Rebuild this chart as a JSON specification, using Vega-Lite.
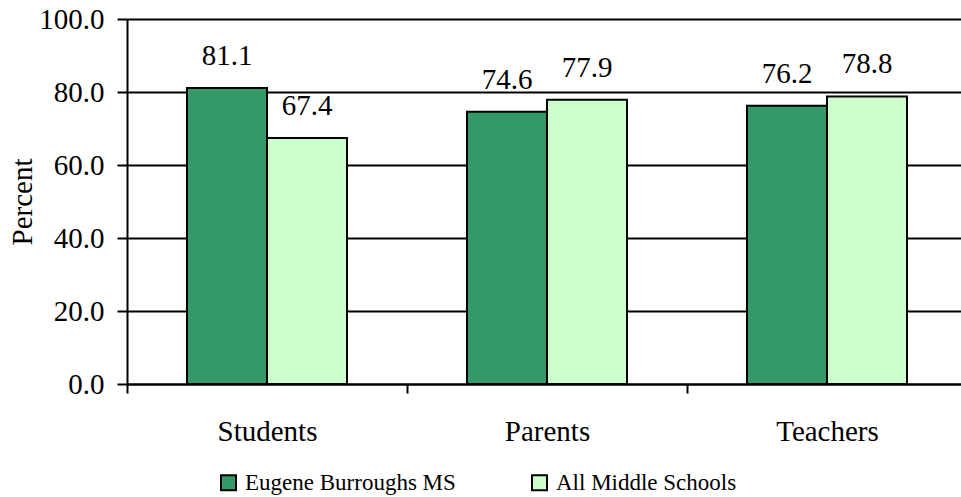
{
  "$schema": "https://vega.github.io/schema/vega-lite/v6.json",
  "autosize": "none",
  "width": 840,
  "height": 365,
  "padding": {"left": 127, "top": 19, "right": 0, "bottom": 113},
  "background": "white",
  "config": {
    "view": {"stroke": null},
    "font": "Liberation Serif",
    "axis": {"labelFont": "Liberation Serif", "titleFont": "Liberation Serif", "labelColor": "black", "titleColor": "black"}
  },
  "data": {
    "values": [
      {"group": "Students", "series": "Eugene Burroughs MS", "value": 81.1},
      {"group": "Students", "series": "All Middle Schools", "value": 67.4},
      {"group": "Parents", "series": "Eugene Burroughs MS", "value": 74.6},
      {"group": "Parents", "series": "All Middle Schools", "value": 77.9},
      {"group": "Teachers", "series": "Eugene Burroughs MS", "value": 76.2},
      {"group": "Teachers", "series": "All Middle Schools", "value": 78.8}
    ]
  },
  "encoding": {
    "x": {
      "field": "group", "type": "nominal", "sort": ["Students", "Parents", "Teachers"],
      "scale": {"paddingInner": 0, "paddingOuter": 0},
      "axis": {
        "title": null, "labelAngle": 0, "labelFontSize": 29, "labelPadding": 24,
        "tickBand": "extent", "tickSize": 9, "tickWidth": 2, "tickColor": "black",
        "domainColor": "black", "domainWidth": 2
      }
    },
    "xOffset": {
      "field": "series", "type": "nominal", "sort": ["Eugene Burroughs MS", "All Middle Schools"],
      "scale": {"paddingInner": 0, "paddingOuter": 0.75}
    },
    "y": {
      "field": "value", "type": "quantitative",
      "scale": {"domain": [0, 100]},
      "axis": {
        "title": "Percent", "titleFontSize": 29, "titleFontWeight": "normal", "titlePadding": 1,
        "values": [0, 20, 40, 60, 80, 100], "format": ".1f", "labelFontSize": 29, "labelPadding": 13,
        "tickSize": 10, "tickWidth": 2, "tickColor": "black",
        "domainColor": "black", "domainWidth": 2,
        "grid": true, "gridColor": "black", "gridWidth": 2
      }
    }
  },
  "layer": [
    {
      "mark": {"type": "bar", "stroke": "black", "strokeWidth": 2},
      "encoding": {
        "color": {
          "field": "series", "type": "nominal", "sort": ["Eugene Burroughs MS", "All Middle Schools"],
          "scale": {"domain": ["Eugene Burroughs MS", "All Middle Schools"], "range": ["#339966", "#CCFFCC"]},
          "legend": {
            "title": null, "orient": "none", "direction": "horizontal", "legendX": 90, "legendY": 452,
            "symbolType": "square", "symbolSize": 225, "symbolStrokeColor": "black", "symbolStrokeWidth": 2,
            "symbolOpacity": 1, "labelFont": "Liberation Serif", "labelFontSize": 23, "labelColor": "black",
            "labelOffset": 5, "columnPadding": 72, "labelLimit": 400
          }
        }
      }
    },
    {
      "mark": {"type": "text", "baseline": "alphabetic", "dy": -23, "fontSize": 29, "font": "Liberation Serif", "color": "black"},
      "encoding": {
        "text": {"field": "value", "type": "quantitative", "format": ".1f"}
      }
    }
  ]
}
